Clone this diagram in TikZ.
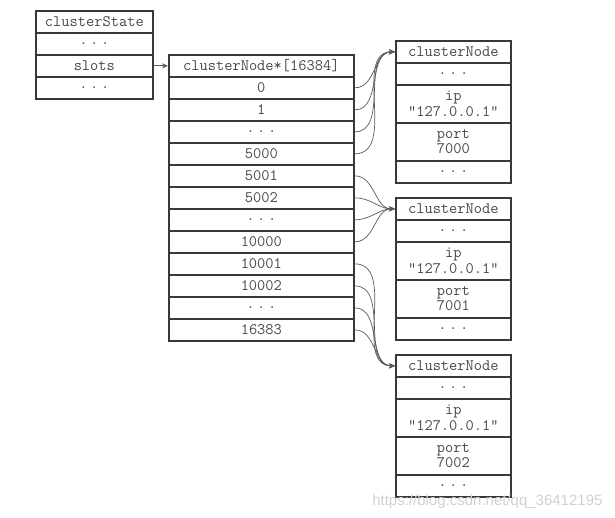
\documentclass[tikz,border=0pt]{standalone}
\usepackage{fontspec}
\newfontfamily\wmfont{Liberation Sans}
\usetikzlibrary{arrows.meta}
\definecolor{txt}{HTML}{484848}
\definecolor{frame}{HTML}{383838}
\definecolor{wirec}{HTML}{5a5a5a}
\newcommand{\dd}{.\,.\,.}
\begin{document}
\begin{tikzpicture}[x=1pt,y=-1pt,
  cell/.style={draw=frame, line width=1.7pt, inner sep=0pt, anchor=north west,
    font=\ttfamily\fontsize{16}{15.5}\selectfont, text=txt, align=center},
  csc/.style={cell, minimum width=117pt, minimum height=22pt},
  arr/.style={cell, minimum width=185pt, minimum height=22pt},
  nsm/.style={cell, minimum width=115pt, minimum height=22pt},
  nbg/.style={cell, minimum width=115pt, minimum height=38pt},
  wire/.style={draw=wirec, line width=0.7pt, -{Stealth[length=6pt,width=5pt]}},
  wm/.style={font=\wmfont\fontsize{15}{15}\selectfont, text=black!18}]
\useasboundingbox (0,0) rectangle (615,518);
% clusterState
\node[csc] (cs0) at (35,10) {clusterState};
\node[csc] (cs1) at (35,32) {\dd};
\node[csc] (cs2) at (35,54) {slots};
\node[csc] (cs3) at (35,76) {\dd};
% array
\node[arr] (a0) at (168,54) {clusterNode*[16384]};
\node[arr] (a1) at (168,76) {0};
\node[arr] (a2) at (168,98) {1};
\node[arr] (a3) at (168,120) {\dd};
\node[arr] (a4) at (168,142) {5000};
\node[arr] (a5) at (168,164) {5001};
\node[arr] (a6) at (168,186) {5002};
\node[arr] (a7) at (168,208) {\dd};
\node[arr] (a8) at (168,230) {10000};
\node[arr] (a9) at (168,252) {10001};
\node[arr] (a10) at (168,274) {10002};
\node[arr] (a11) at (168,296) {\dd};
\node[arr] (a12) at (168,318) {16383};
% cluster nodes
\foreach \k/\top/\port in {1/40/7000, 2/197/7001, 3/354/7002} {
  \node[nsm] (n\k h) at (395,\top) {clusterNode};
  \node[nsm] (n\k a) at (395,\top+22) {\dd};
  \node[nbg] (n\k i) at (395,\top+44) {ip\\"127.0.0.1"};
  \node[nbg] (n\k p) at (395,\top+82) {port\\\port};
  \node[nsm] (n\k b) at (395,\top+120) {\dd};
}
% connectors
\draw[wire] (cs2.east) -- (a0.west);
\foreach \r in {1,2,3,4} \draw[wire] (a\r.east) to[out=0,in=180] (n1h.west);
\foreach \r in {5,6,7,8} \draw[wire] (a\r.east) to[out=0,in=180] (n2h.west);
\foreach \r in {9,10,11,12} \draw[wire] (a\r.east) to[out=0,in=180] (n3h.west);
% watermark
\node[wm, anchor=east] (wmk) at (606,502) {https://blog.csdn.net/qq\_36412195};
\end{tikzpicture}
\end{document}
